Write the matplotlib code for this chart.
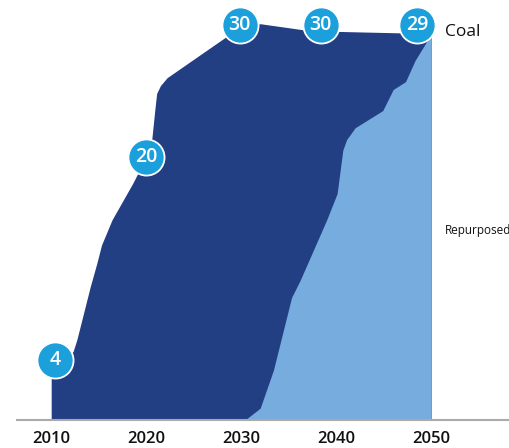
import matplotlib.pyplot as plt
from matplotlib.transforms import offset_copy

plt.rcParams['font.family'] = ['Open Sans', 'DejaVu Sans']

# coal capacity (outer envelope)
coal_years = [2010, 2012.3, 2012.7, 2013.4, 2014.1, 2014.8, 2015.3, 2016.4,
              2018.6, 2020, 2020.6, 2020.9, 2021.1, 2021.5, 2022.2, 2026.4,
              2029.4, 2030, 2032, 2036.9, 2038, 2047, 2050]
coal_vals = [4, 5.2, 6.1, 8.1, 10.1, 11.9, 13.3, 15.2,
             18.0, 20.0, 21.4, 23.5, 24.8, 25.4, 26.0, 28.1,
             29.6, 29.8, 30.1, 29.6, 29.55, 29.4, 29.3]

# repurposed share
rep_years = [2030.4, 2032, 2033.4, 2035.3, 2036.2, 2039, 2040.1, 2040.7,
             2041.1, 2042, 2044.9, 2046, 2047.3, 2048.3, 2050]
rep_vals = [0, 0.9, 3.8, 9.3, 10.6, 15.2, 17.2, 20.5,
            21.3, 22.2, 23.5, 25.1, 25.7, 27.3, 29.3]

# badges: year, shift in pixels (dx, dy)
badge_years = [2010, 2020, 2030, 2038, 2050]
badge_shift = [(4, 7), (0, 0), (-1.5, 2.5), (3.5, 6), (-14, 9)]

dark = '#223f84'
light = '#76acde'
cyan = '#1ba0dc'

fig = plt.figure(figsize=(5.10, 4.48), dpi=100)
ax = fig.add_axes([17 / 510, 28 / 448, 1 - 17 / 510, 420 / 448])

ax.fill_between(coal_years, coal_vals, 0, color=dark, lw=0, zorder=1)
ax.fill_between(rep_years, rep_vals, 0, color=light, lw=0, zorder=2)

for yr, (dx, dy) in zip(badge_years, badge_shift):
    v = coal_vals[coal_years.index(yr)]
    tr = offset_copy(ax.transData, fig=fig, x=dx, y=dy, units='dots')
    ax.scatter([yr], [v], s=26 ** 2, color=cyan, edgecolor='white',
               linewidth=1.3, transform=tr, zorder=5, clip_on=False)
    ax.text(yr, v, f'{v:.0f}', transform=tr, color='white', fontsize=14,
            fontweight='semibold', ha='center', va='center', zorder=6)

ax.text(2051.5, 29.5, 'Coal', fontsize=12.5, color='#111111',
        ha='left', va='center')
ax.text(2051.4, 14.4, 'Repurposed', fontsize=8.5, color='#111111',
        ha='left', va='center', clip_on=False)

ax.set_xlim(2006.4, 2058.3)
ax.set_ylim(0, 31.9)
ax.set_xticks([2010, 2020, 2030, 2040, 2050])
ax.tick_params(axis='x', length=0, pad=8, labelsize=12, labelcolor='#111111')
for lbl in ax.get_xticklabels():
    lbl.set_fontweight('semibold')
ax.set_yticks([])
for side in ['top', 'left', 'right']:
    ax.spines[side].set_visible(False)
ax.spines['bottom'].set_color('#aaaaaa')
ax.spines['bottom'].set_linewidth(1.5)
ax.set_facecolor('none')

fig.savefig('out.png', dpi=100)
